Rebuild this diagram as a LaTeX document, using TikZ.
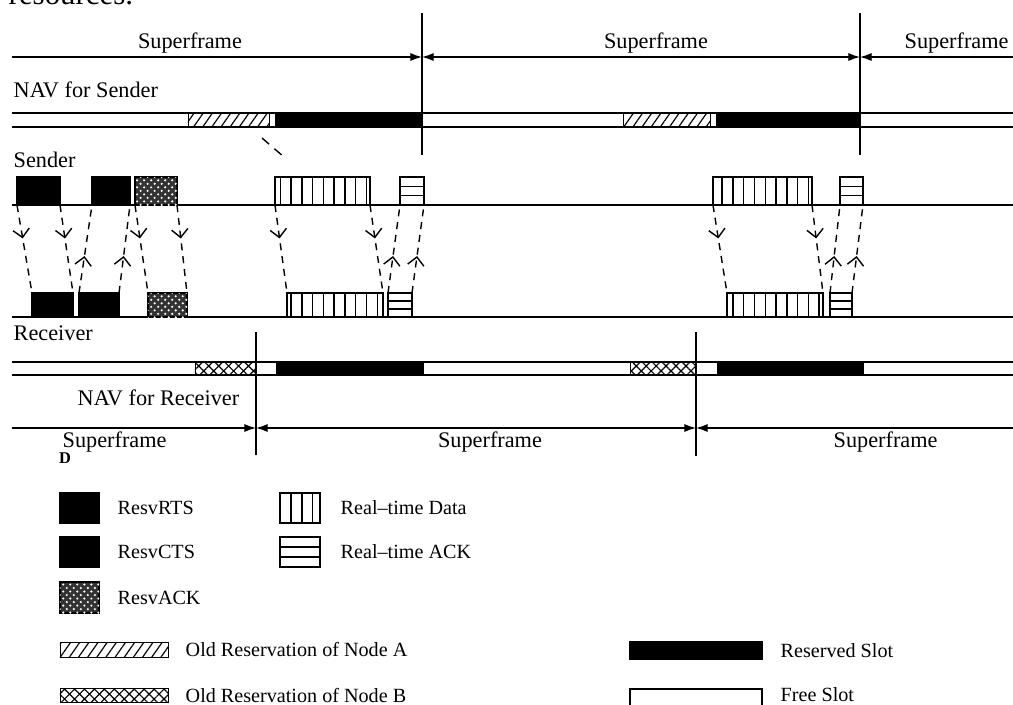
\documentclass[tikz,border=0pt]{standalone}
\usepackage{fontspec}
\setmainfont{Liberation Serif}
\usetikzlibrary{arrows.meta, patterns, patterns.meta, decorations.markings, positioning, calc}

\tikzset{
	slot/.style={shape=rectangle, inner sep=0pt, outer sep=0pt, minimum height=0.42cm},
	rslot/.style={slot, minimum height=0.36cm},
	resv/.style={draw, fill=black},
	resvack/.style={draw, fill=black!80, postaction={pattern=crosshatch dots, pattern color=white}},
	rtdata/.style={draw, fill=white, postaction={pattern={Lines[angle=90, distance=4.6pt, line width=0.6pt]}}},
	rtack/.style={draw, fill=white, path picture={
		\foreach \f in {0.333, 0.667}
			\draw ($(path picture bounding box.north west)!\f!(path picture bounding box.south west)$) -- ($(path picture bounding box.north east)!\f!(path picture bounding box.south east)$);}},
	navbar/.style={shape=rectangle, inner sep=0pt, outer sep=0pt, minimum height=0.21cm},
	reserved/.style={fill=black},
	oldA/.style={draw, line width=0.4pt, pattern={Lines[angle=55, distance=3.2pt, line width=0.5pt]}},
	oldB/.style={draw, line width=0.4pt, pattern={Hatch[angle=45, distance=3pt, line width=0.5pt]}},
	sig/.style={dash pattern=on 3pt off 2.5pt, postaction={decorate}, decoration={markings, mark=at position #1 with {\arrow{Straight Barb[length=3.5pt, width=7pt]}}}},
	sig/.default=0.38,
	frame/.style={{Latex[length=5pt, width=3.5pt]}-{Latex[length=5pt, width=3.5pt]}},
	diag/.style={inner sep=0pt, font=\fontsize{9.5}{11}\selectfont},
	legtext/.style={inner sep=0pt, anchor=west, font=\fontsize{8.6}{10}\selectfont}
}

\begin{document}
\begin{tikzpicture}[x=0.015cm, y=-0.015cm, line width=0.6pt]
	\useasboundingbox (0,0) rectangle (1013,704);
	\node[anchor=base west, inner sep=0pt, font=\fontsize{13.2}{15}\selectfont] (cap) at (8,4) {resources.};

	% Superframes of the sender:
	\coordinate (vs1) at (422,13); \coordinate (vs1b) at (422,155);
	\coordinate (vs2) at (860,13); \coordinate (vs2b) at (860,155);
	\draw (vs1) -- (vs1b);
	\draw (vs2) -- (vs2b);
	\coordinate (ts0) at (12,57); \coordinate (ts1) at (422,57);
	\coordinate (ts2) at (860,57); \coordinate (ts3) at (1013,57);
	\draw[-{Latex[length=5pt, width=3.5pt]}] (ts0) -- (ts1);
	\draw[frame] (ts1) -- (ts2);
	\draw[{Latex[length=5pt, width=3.5pt]}-] (ts2) -- (ts3);
	\node[diag] (sfs1) at (190,43) {Superframe};
	\node[diag] (sfs2) at (656,43) {Superframe};
	\node[diag, anchor=west] (sfs3) at (904,43) {Superframe};

	% NAV for Sender:
	\node[diag, anchor=west] (navsl) at (13,90) {NAV for Sender};
	\draw (12,113) -- (1013,113);
	\draw (12,127) -- (1013,127);
	\node[navbar, oldA, minimum width=1.215cm] (navsA1) at (228.5,120) {};
	\node[navbar, reserved, minimum width=2.205cm] (navsR1) at (348.5,120) {};
	\node[navbar, oldA, minimum width=1.305cm] (navsA2) at (666.5,120) {};
	\node[navbar, reserved, minimum width=2.16cm] (navsR2) at (788,120) {};
	\draw[dash pattern=on 4pt off 3pt] (262,138) -- (284,157);

	% Sender:
	\node[diag, anchor=west] (sl) at (13,160) {Sender};
	\draw (12,205) -- (1013,205);
	\node[slot, resv, minimum width=0.645cm] (sRTS) at (38.5,191) {};
	\node[slot, resv, minimum width=0.57cm] (sCTS) at (111,191) {};
	\node[slot, resvack, minimum width=0.63cm] (sACK) at (156,191) {};
	\node[slot, rtdata, minimum width=1.425cm] (sDataA) at (322.5,191) {};
	\node[slot, rtack, minimum width=0.36cm] (sAckA) at (412,191) {};
	\node[slot, rtdata, minimum width=1.485cm] (sDataB) at (762.5,191) {};
	\node[slot, rtack, minimum width=0.345cm] (sAckB) at (851.5,191) {};

	% Receiver:
	\draw (12,317) -- (1013,317);
	\node[rslot, resv, minimum width=0.615cm] (rRTS) at (52.5,305) {};
	\node[rslot, resv, minimum width=0.6cm] (rCTS) at (99,305) {};
	\node[rslot, resvack, minimum width=0.585cm] (rACK) at (167.5,305) {};
	\node[rslot, rtdata, minimum width=1.44cm] (rDataA) at (335,305) {};
	\node[rslot, rtack, minimum width=0.36cm] (rAckA) at (400,305) {};
	\node[rslot, rtdata, minimum width=1.44cm] (rDataB) at (775,305) {};
	\node[rslot, rtack, minimum width=0.33cm] (rAckB) at (841,305) {};
	\node[diag, anchor=west] (rl) at (13,333) {Receiver};

	% Frames between sender and receiver:
	\foreach \a/\b in {sRTS/rRTS, sACK/rACK, sDataA/rDataA, sDataB/rDataB} {
		\draw[sig] (\a.south west) -- (\b.north west);
		\draw[sig] (\a.south east) -- (\b.north east);
	}
	\foreach \a/\b in {rCTS/sCTS, rAckA/sAckA, rAckB/sAckB} {
		\draw[sig=0.42] (\a.north west) -- (\b.south west);
		\draw[sig=0.42] (\a.north east) -- (\b.south east);
	}

	% NAV for Receiver:
	\draw (12,362) -- (1013,362);
	\draw (12,375) -- (1013,375);
	\node[navbar, oldB, minimum width=0.9cm, minimum height=0.195cm] (navrB1) at (225,368.5) {};
	\node[navbar, reserved, minimum width=2.22cm, minimum height=0.195cm] (navrR1) at (350,368.5) {};
	\node[navbar, oldB, minimum width=0.975cm, minimum height=0.195cm] (navrB2) at (662.5,368.5) {};
	\node[navbar, reserved, minimum width=2.205cm, minimum height=0.195cm] (navrR2) at (790.5,368.5) {};
	\node[diag, anchor=west] (navrl) at (77,398) {NAV for Receiver};

	% Superframes of the receiver:
	\coordinate (vr1) at (256,332); \coordinate (vr1b) at (256,455);
	\coordinate (vr2) at (696,332); \coordinate (vr2b) at (696,456);
	\draw (vr1) -- (vr1b);
	\draw (vr2) -- (vr2b);
	\coordinate (tr0) at (12,428); \coordinate (tr1) at (256,428);
	\coordinate (tr2) at (696,428); \coordinate (tr3) at (1013,428);
	\draw[-{Latex[length=5pt, width=3.5pt]}] (tr0) -- (tr1);
	\draw[frame] (tr1) -- (tr2);
	\draw[{Latex[length=5pt, width=3.5pt]}-] (tr2) -- (tr3);
	\node[diag, anchor=west] (sfr1) at (62,442) {Superframe};
	\node[diag] (sfr2) at (490,442) {Superframe};
	\node[diag, anchor=west] (sfr3) at (833,442) {Superframe};
	\node[inner sep=0pt, font=\scriptsize\bfseries] (dmark) at (65,458) {D};

	% Legend:
	\node[slot, resv, minimum width=0.585cm, minimum height=0.45cm] (lgRTS) at (79.5,508) {};
	\node[legtext, right=0.27cm of lgRTS] (lgRTSt) {ResvRTS};
	\node[slot, resv, minimum width=0.585cm, minimum height=0.45cm] (lgCTS) at (79.5,552) {};
	\node[legtext, right=0.27cm of lgCTS] (lgCTSt) {ResvCTS};
	\node[slot, resvack, minimum width=0.585cm, minimum height=0.465cm] (lgACK) at (79.5,597.5) {};
	\node[legtext, right=0.27cm of lgACK] (lgACKt) {ResvACK};
	\node[slot, rtdata, minimum width=0.6cm, minimum height=0.45cm] (lgData) at (300,508) {};
	\node[legtext, right=0.3cm of lgData] (lgDatat) {Real--time Data};
	\node[slot, rtack, minimum width=0.6cm, minimum height=0.45cm] (lgAck) at (300,552) {};
	\node[legtext, right=0.3cm of lgAck] (lgAckt) {Real--time ACK};
	\node[navbar, oldA, minimum width=1.62cm, minimum height=0.225cm] (lgOldA) at (114,649.5) {};
	\node[legtext, right=0.255cm of lgOldA] (lgOldAt) {Old Reservation of Node A};
	\node[navbar, oldB, minimum width=1.62cm, minimum height=0.21cm] (lgOldB) at (114,695) {};
	\node[legtext, right=0.255cm of lgOldB] (lgOldBt) {Old Reservation of Node B};
	\node[navbar, reserved, draw, minimum width=1.98cm, minimum height=0.255cm] (lgRes) at (696,650.5) {};
	\node[legtext, right=0.27cm of lgRes] (lgRest) {Reserved Slot};
	\node[navbar, draw, minimum width=1.98cm, minimum height=0.3cm] (lgFree) at (696,699) {};
	\node[legtext, anchor=west] (lgFreet) at ([xshift=0.27cm]lgFree.east |- lgOldBt.west) {Free Slot};
\end{tikzpicture}
\end{document}
